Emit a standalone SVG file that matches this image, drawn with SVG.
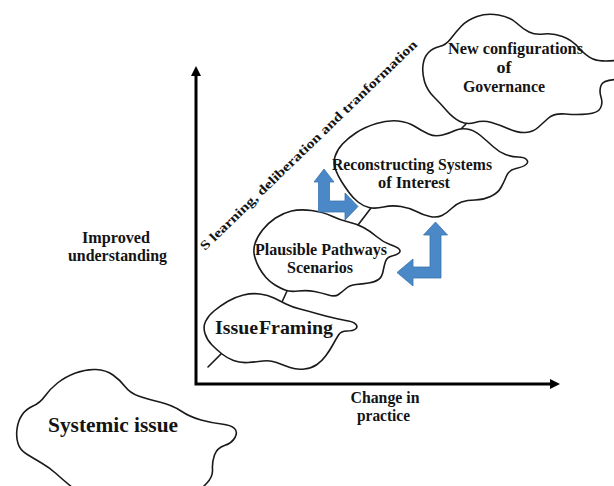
<svg xmlns="http://www.w3.org/2000/svg" width="614" height="486" viewBox="0 0 614 486">
  <defs>
    <style>
      .cloud { fill: #ffffff; stroke: #1a1a1a; stroke-width: 1.6; stroke-linejoin: round; }
      .link { fill: none; stroke: #1a1a1a; stroke-width: 1.6; stroke-linecap: round; }
      .axis { fill: none; stroke: #000000; stroke-width: 3; stroke-linejoin: miter; }
      .lbl { font-family: "Liberation Serif", "Times New Roman", serif; font-weight: bold; fill: #141414; text-anchor: middle; }
      .bent { fill: #4a88c8; stroke: #3b73ad; stroke-width: 0.8; stroke-linejoin: miter; }
    </style>
    <marker id="axisHead" viewBox="0 0 10 10" refX="1" refY="5" markerWidth="10" markerHeight="10" markerUnits="userSpaceOnUse" orient="auto-start-reverse">
      <path d="M0,0 L10,5 L0,10 Z" fill="#000000"/>
    </marker>
  </defs>

  <!-- axes -->
  <g id="axes">
    <path class="axis" d="M196,75 V384 H551" marker-start="url(#axisHead)" marker-end="url(#axisHead)"/>
    <text class="lbl" font-size="17" x="116" y="243" textLength="68" lengthAdjust="spacingAndGlyphs">Improved</text>
    <text class="lbl" font-size="17" x="117.5" y="261" textLength="99" lengthAdjust="spacingAndGlyphs">understanding</text>
    <text class="lbl" font-size="17" x="385" y="402.5" textLength="69" lengthAdjust="spacingAndGlyphs">Change in</text>
    <text class="lbl" font-size="17" x="383.5" y="421" textLength="53" lengthAdjust="spacingAndGlyphs">practice</text>
    <text class="lbl" font-size="13" text-anchor="start" transform="translate(205,251) rotate(-44)" x="0" y="0" textLength="296" lengthAdjust="spacingAndGlyphs" style="text-anchor:start">S learning, deliberation and tranformation</text>
  </g>

  <!-- connectors between the clouds -->
  <g id="connectors">
    <path class="link" d="M208,367 L223,352"/>
    <path class="link" d="M282,302 L287,291"/>
    <path class="link" d="M358,225 L371,208"/>
    <path class="link" d="M461,129 L466,124"/>
  </g>

  <g id="systemic-issue">
    <path class="cloud" d="M18,443.5 Q16,437 17,429 Q18,421 22,415 Q26,409 33,406 Q40,403 45,396 Q50,389 57.5,383 Q65,377 75.5,373 Q86,369 96,369.5 Q106,370 113,375 Q120,380 125,386.5 Q130,393 138.5,396 Q147,399 159.5,402 Q172,405 181,411 Q190,417 201,420 Q212,423 221.5,424 Q231,425 234.5,428.5 Q238,432 235,437.5 Q232,443 224.5,445.5 Q217,448 214.5,455 Q212,462 212.5,469.5 Q213,477 206.5,483.5 Q200,490 190,500 L85,500 Q78,492 70,485.5 Q62,479 56,473.5 Q50,468 41.5,463 Q33,458 26.5,454 Q20,450 18,443.5 Z"/>
    <text class="lbl" font-size="22" x="113" y="432" textLength="130" lengthAdjust="spacingAndGlyphs">Systemic issue</text>
  </g>

  <g id="issue-framing">
    <path class="cloud" d="M205,333.5 Q203,327 205.5,321.5 Q208,316 214,311 Q220,306 227.5,301.5 Q235,297 243.5,295 Q252,293 260,294 Q268,295 274,298 Q280,301 286,304 Q292,307 300,309 Q308,311 316.5,313.5 Q325,316 334,318 Q343,320 348.5,321 Q354,322 356,324.5 Q358,327 355.5,329 Q353,331 347,331 Q341,331 338.5,335 Q336,339 333,344.5 Q330,350 326,355.5 Q322,361 317,364.5 Q312,368 304.5,369 Q297,370 290,367.5 Q283,365 276.5,362.5 Q270,360 263,361 Q256,362 248,362.5 Q240,363 233.5,360.5 Q227,358 222,354 Q217,350 212,345 Q207,340 205,333.5 Z"/>
    <text class="lbl" font-size="19" x="274" y="333.5" textLength="118" lengthAdjust="spacingAndGlyphs" word-spacing="-4">Issue Framing</text>
  </g>

  <g id="plausible-pathways">
    <path class="cloud" d="M254.5,256 Q253,250 255,243.5 Q257,237 262.5,230 Q268,223 275.5,218 Q283,213 291.5,211 Q300,209 311.5,210.5 Q323,212 331.5,216 Q340,220 348.5,222 Q357,224 363.5,227.5 Q370,231 376.5,236.5 Q383,242 390,244.5 Q397,247 399,249 Q401,251 399,253 Q397,255 392,256 Q387,257 385.5,261.5 Q384,266 383,271.5 Q382,277 378.5,279.5 Q375,282 368.5,283 Q362,284 356,284.5 Q350,285 346,288.5 Q342,292 338.5,294.5 Q335,297 328.5,295 Q322,293 314.5,291.5 Q307,290 298.5,291 Q290,292 285,290 Q280,288 275,285 Q270,282 266,277.5 Q262,273 259,267.5 Q256,262 254.5,256 Z"/>
    <text class="lbl" font-size="16.5" x="321" y="255" textLength="132" lengthAdjust="spacingAndGlyphs">Plausible Pathways</text>
    <text class="lbl" font-size="16.5" x="320" y="273" textLength="66" lengthAdjust="spacingAndGlyphs">Scenarios</text>
  </g>

  <g id="reconstructing-systems">
    <path class="cloud" d="M335.5,169.5 Q333,163 335,156.5 Q337,150 342.5,144 Q348,138 356.5,132.5 Q365,127 376.5,123.5 Q388,120 398,121 Q408,122 415,126.5 Q422,131 428.5,134 Q435,137 442.5,135 Q450,133 455,130.5 Q460,128 467,129 Q474,130 480.5,135.5 Q487,141 493,146.5 Q499,152 505.5,154.5 Q512,157 518,157 Q524,157 526.5,159.5 Q529,162 526,164.5 Q523,167 516,168.5 Q509,170 506.5,176 Q504,182 501,187.5 Q498,193 490.5,196.5 Q483,200 475,200 Q467,200 461.5,202 Q456,204 451.5,208.5 Q447,213 442,215.5 Q437,218 430,216.5 Q423,215 416.5,211.5 Q410,208 401,206.5 Q392,205 383.5,207 Q375,209 369,207.5 Q363,206 358,202 Q353,198 349,192.5 Q345,187 341.5,181.5 Q338,176 335.5,169.5 Z"/>
    <text class="lbl" font-size="17" x="412" y="170" textLength="160" lengthAdjust="spacingAndGlyphs">Reconstructing Systems</text>
    <text class="lbl" font-size="17" x="414" y="188" textLength="72" lengthAdjust="spacingAndGlyphs">of Interest</text>
  </g>

  <g id="new-configurations">
    <path class="cloud" d="M428.5,52.5 Q433,48 439.5,46.5 Q446,45 450.5,39 Q455,33 461,26.5 Q467,20 477,16.5 Q487,13 498.5,15 Q510,17 516.5,23 Q523,29 529,32 Q535,35 544,34 Q553,33 562.5,36.5 Q572,40 579,48 Q586,56 593,59 Q600,62 615,60.5 Q630,59 635,64.5 Q640,70 635,74.5 Q630,79 616.5,79.5 Q603,80 601,85.5 Q599,91 601,97 Q603,103 600.5,108 Q598,113 587.5,114 Q577,115 565.5,114 Q554,113 548.5,118 Q543,123 538,127.5 Q533,132 525.5,132.5 Q518,133 509,129 Q500,125 491.5,122.5 Q483,120 475,122.5 Q467,125 460,121.5 Q453,118 446.5,110.5 Q440,103 433.5,96.5 Q427,90 424.5,81.5 Q422,73 423,65 Q424,57 428.5,52.5 Z"/>
    <text class="lbl" font-size="16.5" x="515.5" y="54" textLength="135" lengthAdjust="spacingAndGlyphs">New configurations</text>
    <text class="lbl" font-size="16.5" x="504" y="72.5" textLength="15" lengthAdjust="spacingAndGlyphs">of</text>
    <text class="lbl" font-size="16.5" x="504" y="91.5" textLength="82" lengthAdjust="spacingAndGlyphs">Governance</text>
  </g>

  <!-- bent double-headed block arrows -->
  <g id="arrow-up-right">
    <path class="bent" d="M324,169 L334,182 L329.5,182 L329.5,201 L345,201 L345,193 L358,206.5 L345,220 L345,212 L318.5,212 L318.5,182 L314,182 Z"/>
  </g>
  <g id="arrow-up-left">
    <path class="bent" d="M435.5,222 L447.5,235 L441,235 L441,278 L413,278 L413,286 L397,272.5 L413,259 L413,267 L430,267 L430,235 L423.5,235 Z"/>
  </g>
</svg>
